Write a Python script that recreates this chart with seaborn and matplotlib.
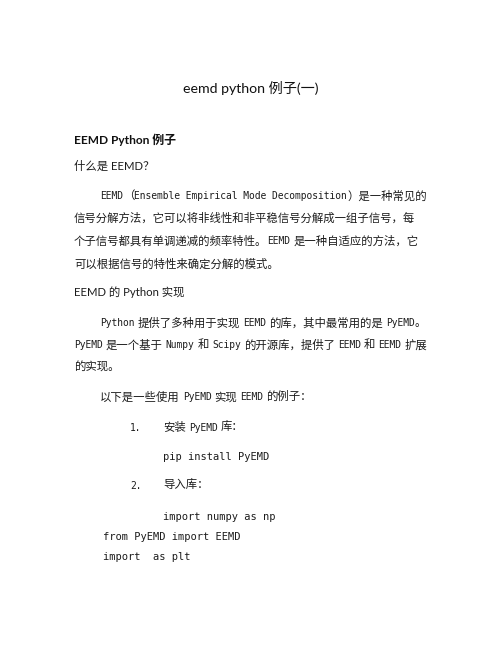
import matplotlib
matplotlib.use('Agg')
import matplotlib.pyplot as plt
import seaborn as sns

sns.set_theme(style='white')
plt.rcParams['font.family'] = ['Noto Sans CJK SC', 'DejaVu Sans']

# page text
title = 'eemd python 例子(一)'
heading = 'EEMD Python 例子'
question = '什么是 EEMD？'
intro_lines = [
    'EEMD（Ensemble Empirical Mode Decomposition）是一种常见的',
    '信号分解方法，它可以将非线性和非平稳信号分解成一组子信号，每',
    '个子信号都具有单调递减的频率特性。EEMD 是一种自适应的方法，它',
    '可以根据信号的特性来确定分解的模式。',
]
section = 'EEMD 的 Python 实现'
impl_lines = [
    'Python 提供了多种用于实现 EEMD 的库，其中最常用的是 PyEMD。',
    'PyEMD 是一个基于 Numpy 和 Scipy 的开源库，提供了 EEMD 和 EEMD 扩展',
    '的实现。',
]
lead = '以下是一些使用 PyEMD 实现 EEMD 的例子：'
step_nums = ['1.', '2.']
step_texts = ['安装 PyEMD 库：', '导入库：']
code_lines = ['pip install PyEMD', 'import numpy as np', 'from PyEMD import EEMD', 'import  as plt']

W, H = 502, 649
INK = '#1c1c1c'
BODY_PT = 8.2
BODY_PX = BODY_PT * 100 / 72
LATIN_PT = 6.9
LATIN_ADV = 0.602 * LATIN_PT * 100 / 72   # DejaVu Sans Mono advance
GAP = 3.0   # spacing between CJK and latin words
SANS = ['Lato', 'Noto Sans CJK SC']

fig = plt.figure(figsize=(W / 100, H / 100), dpi=100)
ax = fig.add_axes([0, 0, 1, 1])
ax.set_xlim(0, W)
ax.set_ylim(H, 0)
ax.axis('off')


def runs(s):
    out = []
    for ch in s:
        kind = ch.isascii()
        if out and out[-1][0] == kind:
            out[-1][1] += ch
        else:
            out.append([kind, ch])
    return out


def body(x, y, s):
    # SimSun-like line: half-width latin, full-width CJK
    base = y + 0.38 * BODY_PX
    for is_latin, run in runs(s):
        if is_latin:
            word = run.strip(' ')
            x += GAP * (len(run) - len(run.lstrip(' ')))
            ax.text(x, base, word, family='DejaVu Sans Mono', fontsize=LATIN_PT,
                    color=INK, va='baseline', ha='left')
            x += len(word) * LATIN_ADV
            x += GAP * (len(run) - len(run.rstrip(' ')))
        else:
            ax.text(x, base, run, family='Noto Sans CJK SC', fontsize=BODY_PT,
                    color=INK, va='baseline', ha='left')
            x += len(run) * BODY_PX


def sans(x, y, s, size=8.2, weight='normal', ha='left', color=INK):
    ax.text(x, y + 0.38 * size * 100 / 72, s, family=SANS, fontsize=size,
            fontweight=weight, color=color, va='baseline', ha=ha)


def code(x, y, s):
    ax.text(x, y + 3.5, s, family='DejaVu Sans Mono', fontsize=7.5,
            color=INK, va='baseline', ha='left')


sans(251, 88, title, size=10.2, ha='center', color='#111111')
sans(74, 139, heading, size=8.6, weight='bold', color='#111111')
sans(74, 165, question, size=8.2)

intro_y = [195, 217, 240, 263]
for i, (line, y) in enumerate(zip(intro_lines, intro_y)):
    body(100 if i == 0 else 74, y, line)

sans(74, 292, section, size=8.2)

impl_y = [322, 344, 366]
for i, (line, y) in enumerate(zip(impl_lines, impl_y)):
    body(100 if i == 0 else 74, y, line)

body(100, 396, lead)

step_y = [427, 485]
for num, txt, y in zip(step_nums, step_texts, step_y):
    body(130, y, num)
    body(163, y, txt)

code_x = [163, 163, 103, 103]
code_y = [456, 516, 536, 556]
for line, x, y in zip(code_lines, code_x, code_y):
    code(x, y, line)

fig.savefig('out.png', dpi=100, facecolor='white')
